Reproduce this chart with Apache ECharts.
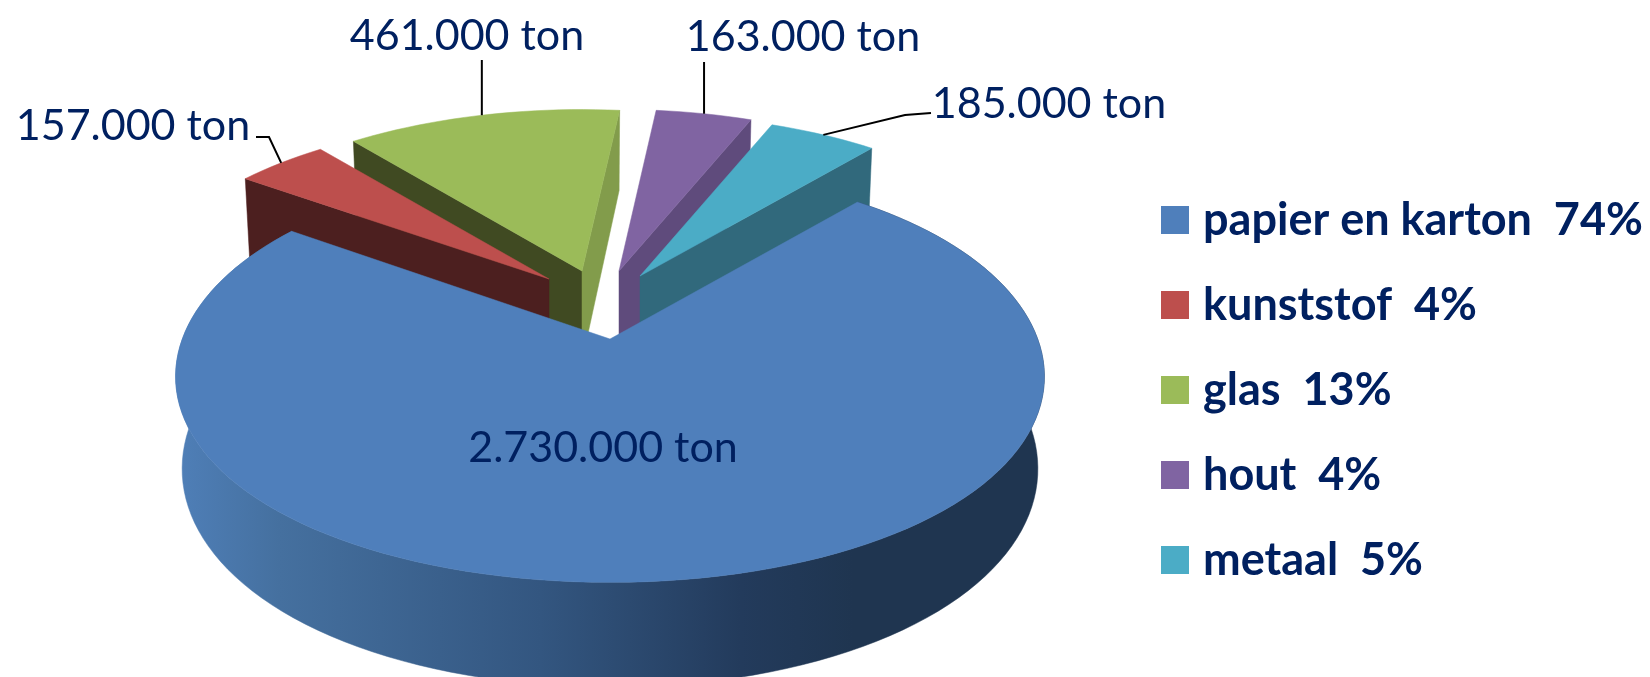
<!DOCTYPE html>
<html>
<head>
<meta charset="utf-8">
<style>
  html, body { margin: 0; background: #fff; }
  #chart { width: 1650px; height: 677px; }
</style>
<script src="https://cdn.jsdelivr.net/npm/echarts@6/dist/echarts.min.js"></script>
</head>
<body>
<div id="chart"></div>
<script>
// data
const names = ['papier en karton', 'kunststof', 'glas', 'hout', 'metaal']
const tons = [2730000, 157000, 461000, 163000, 185000]
const percents = [74, 4, 13, 4, 5]
const colors = ['#4f7fbb', '#bd4f4d', '#9bbb59', '#8064a2', '#4bacc6']

// look of the 3d pie
const START_ANGLE = 40
const FOCAL_X = 432
const FOCAL_Y = 202
const PERSPECTIVE = 0.17
const DEPTH = 90
const BOTTOM_SCALE = 0.985
const TEXT_COLOR = '#002060'
const FONT = 'Lato, "Noto Sans", sans-serif'

// per slice: apex on screen, radius, wall colours, label place + leader line
const slices = [
  { apex: [610, 339], radius: 1, widen: 0.99, bulge: 0.03, arcWall: true, labelAt: [603, 448] },
  { apex: [549, 279], radius: 0.925, widen: 1.025, startWall: '#4c1f1f', labelAt: [133, 126], leader: [[256, 137], [269, 137]] },
  { apex: [582, 271], radius: 0.925, widen: 1.025, startWall: '#404a22', endWall: '#829c4b', labelAt: [467, 36], leader: [[481, 60]] },
  { apex: [619, 271], radius: 0.925, widen: 1.011, endWall: '#5f4b7c', labelAt: [803, 37], leader: [[702, 62]] },
  { apex: [640, 276], radius: 0.925, widen: 1.011, endWall: '#31697c', labelAt: [1049, 104], leader: [[931, 113], [905, 115]] }
]
// back to front, blue has to cover the walls of the others
const drawOrder = [2, 1, 3, 4, 0]

const total = tons.reduce((a, b) => a + b, 0)

function sliceAngles(i) {
  let a = START_ANGLE
  for (let j = 0; j < i; j++) a += tons[j] / total * 360
  return [a, a + tons[i] / total * 360]
}

// angle in degrees, clockwise from the back of the pie
function project(s, deg, r, level) {
  const t = deg * Math.PI / 180
  const c = Math.cos(t)
  const w = 1 + PERSPECTIVE * r * c
  const scale = level ? BOTTOM_SCALE : 1
  const wide = s.widen * (1 + (s.bulge || 0) * c * c)
  return [
    s.apex[0] + scale * wide * FOCAL_X * r * Math.sin(t) / w,
    s.apex[1] - scale * FOCAL_Y * r * c / w + (level ? DEPTH / w : 0)
  ]
}

function arcPoints(s, a0, a1, level) {
  const pts = []
  const steps = Math.max(4, Math.ceil((a1 - a0) / 2))
  for (let k = 0; k <= steps; k++) {
    pts.push(project(s, a0 + (a1 - a0) * k / steps, s.radius, level))
  }
  return pts
}

function poly(points, fill) {
  return {
    type: 'polygon',
    shape: { points: points },
    style: { fill: fill, stroke: fill, lineWidth: 0.5 }
  }
}

function edgeWall(s, deg, fill) {
  return poly([
    project(s, deg, 0, 0),
    project(s, deg, s.radius, 0),
    project(s, deg, s.radius, 1),
    project(s, deg, 0, 1)
  ], fill)
}

function formatTon(v) {
  return String(v).replace(/\B(?=(\d{3})+$)/g, '.') + ' ton'
}

function renderSlice(i) {
  const s = slices[i]
  const [a0, a1] = sliceAngles(i)
  const top = arcPoints(s, a0, a1, 0)
  const children = []

  if (s.arcWall) {
    const lower = arcPoints(s, a0, a1, 1).reverse()
    children.push(poly(top.concat(lower), {
      type: 'linear', x: 0, y: 0, x2: 1, y2: 0,
      colorStops: [
        { offset: 0, color: '#4f7fb8' },
        { offset: 0.12, color: '#45709f' },
        { offset: 0.42, color: '#335680' },
        { offset: 0.65, color: '#233b5c' },
        { offset: 0.78, color: '#1f3550' },
        { offset: 1, color: '#1f3550' }
      ]
    }))
  }
  if (s.startWall) children.push(edgeWall(s, a0, s.startWall))
  if (s.endWall) children.push(edgeWall(s, a1, s.endWall))
  children.push(poly([s.apex].concat(top), colors[i]))

  if (s.leader) {
    const tip = project(s, (a0 + a1) / 2, s.radius, 0)
    // the leaders of glas and hout run straight up from the slice
    const line = s.leader.length === 1 ? [[tip[0], s.leader[0][1]]] : s.leader
    children.push({
      type: 'polyline',
      shape: { points: line.concat([tip]) },
      style: { fill: null, stroke: '#000', lineWidth: 2 }
    })
  }
  children.push({
    type: 'text',
    style: {
      x: s.labelAt[0], y: s.labelAt[1],
      text: formatTon(tons[i]),
      fill: TEXT_COLOR,
      font: '43px ' + FONT,
      textAlign: 'center',
      textVerticalAlign: 'middle'
    }
  })
  return { type: 'group', children: children }
}

const legendNames = names.map((n, i) => n + '  ' + percents[i] + '%')

const chart = echarts.init(document.getElementById('chart'), null, { renderer: 'canvas' })
chart.setOption({
  animation: false,
  backgroundColor: '#fff',
  legend: {
    orient: 'vertical',
    left: 1161,
    top: 196,
    itemWidth: 28,
    itemHeight: 28,
    itemGap: 37,
    icon: 'rect',
    selectedMode: false,
    padding: 0,
    data: legendNames.map((n, i) => ({ name: n, itemStyle: { color: colors[i] } })),
    textStyle: {
      color: TEXT_COLOR,
      fontFamily: FONT,
      fontWeight: 'bold',
      fontSize: 45,
      lineHeight: 48,
      padding: [0, 0, 0, 9]
    }
  },
  series: drawOrder.map((i, order) => ({
    type: 'custom',
    name: legendNames[i],
    coordinateSystem: 'none',
    z: order + 2,
    itemStyle: { color: colors[i] },
    silent: true,
    data: [tons[i]],
    renderItem: () => renderSlice(i)
  }))
})
</script>
</body>
</html>
